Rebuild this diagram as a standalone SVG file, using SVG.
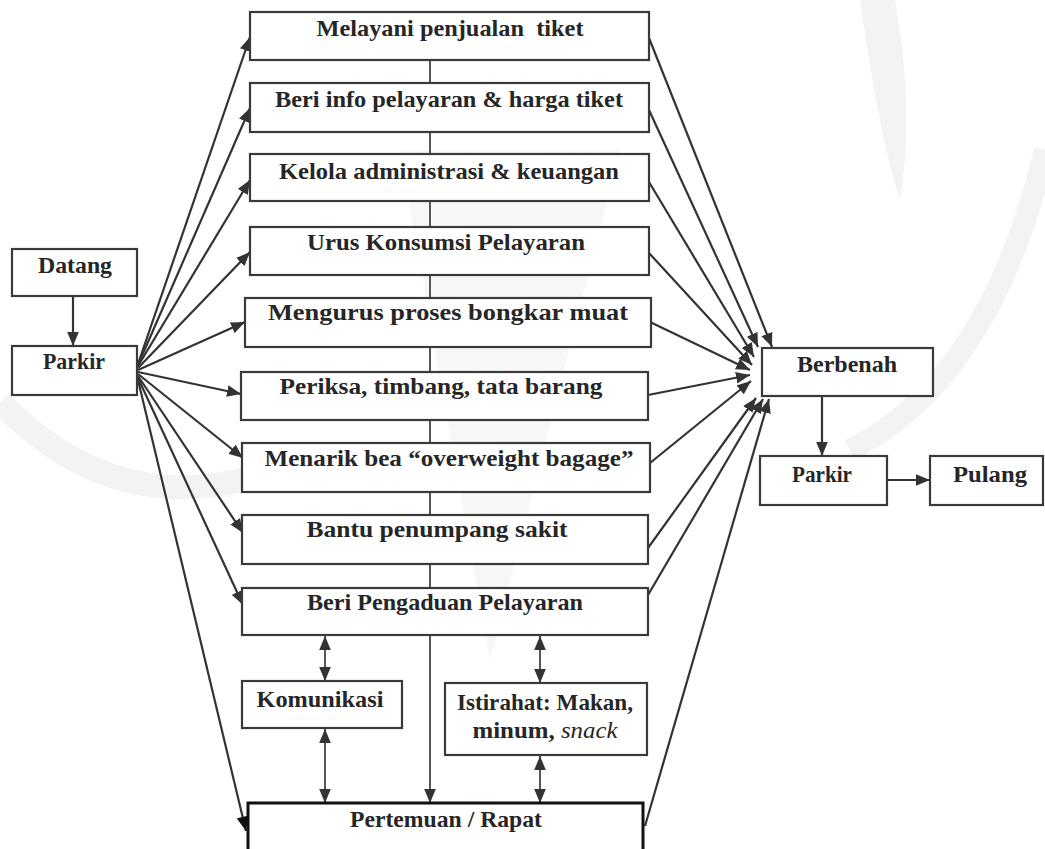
<svg xmlns="http://www.w3.org/2000/svg" width="1045" height="849" viewBox="0 0 1045 849">
  <defs>
    <marker id="ah" viewBox="0 0 12 10" refX="12" refY="5" markerWidth="14" markerHeight="12" markerUnits="userSpaceOnUse" orient="auto-start-reverse">
      <path d="M0,0 L12,5 L0,10 z" fill="#333"/>
    </marker>
    <marker id="ahk" viewBox="0 0 12 10" refX="12" refY="5" markerWidth="15" markerHeight="12" markerUnits="userSpaceOnUse" orient="auto">
      <path d="M0,0 L12,5 L0,10 z" fill="#111"/>
    </marker>
  </defs>
  <style>
    .box { fill: #fff; stroke: #3a3a3a; stroke-width: 2.2; }
    .box2 { fill: #fff; stroke: #111; stroke-width: 3; }
    .lbl { font-family: "Liberation Serif", serif; font-weight: 700; font-size: 24px; fill: #262626; text-anchor: middle; }
    .it { font-family: "Liberation Serif", serif; font-style: italic; font-weight: 400; }
    .ln { fill: none; stroke: #333; stroke-width: 2.2; }
    .lnf { fill: none; stroke: #444; stroke-width: 1.8; }
    .wm { fill: none; stroke: #f3f3f3; }
  </style>
  <rect width="1045" height="849" fill="#fff"/>

  <!-- faint emblem in the background -->
  <g id="emblem">
    <path class="wm" stroke-width="24" d="M0,402 Q110,515 250,478"/>
    <path class="wm" stroke-width="22" d="M1045,150 Q990,380 850,450"/>
    <path d="M860,0 L895,0 Q915,110 900,200 Q880,140 860,0 Z" fill="#f3f3f3"/>
    <path d="M400,150 L620,150 L490,660 Z" fill="#f7f7f7"/>
  </g>

  <!-- connectors -->
  <g id="connectors">
    <!-- spine through the activity column -->
    <path class="lnf" d="M430,60 L430,803" marker-end="url(#ah)"/>
    <!-- Datang to Parkir -->
    <path class="ln" d="M73,296 L73,346" marker-end="url(#ah)"/>
    <!-- fan out of Parkir -->
    <path class="ln" d="M138,364 L250,37" marker-end="url(#ah)"/>
    <path class="ln" d="M138,365 L250,108" marker-end="url(#ah)"/>
    <path class="ln" d="M138,366 L250,180" marker-end="url(#ah)"/>
    <path class="ln" d="M138,368 L250,252" marker-end="url(#ah)"/>
    <path class="ln" d="M138,370 L245,322" marker-end="url(#ah)"/>
    <path class="ln" d="M138,372 L241,394" marker-end="url(#ah)"/>
    <path class="ln" d="M138,374 L243,458" marker-end="url(#ah)"/>
    <path class="ln" d="M138,376 L243,533" marker-end="url(#ah)"/>
    <path class="ln" d="M138,378 L243,605" marker-end="url(#ah)"/>
    <path class="ln" d="M138,380 L246,831" marker-end="url(#ahk)"/>
    <!-- fan into Berbenah -->
    <path class="ln" d="M649,38 L772,347" marker-end="url(#ah)"/>
    <path class="ln" d="M649,110 L758,347" marker-end="url(#ah)"/>
    <path class="ln" d="M649,182 L754,357" marker-end="url(#ah)"/>
    <path class="ln" d="M649,253 L752,365" marker-end="url(#ah)"/>
    <path class="ln" d="M650,322 L750,370" marker-end="url(#ah)"/>
    <path class="ln" d="M648,395 L750,375" marker-end="url(#ah)"/>
    <path class="ln" d="M650,463 L751,381" marker-end="url(#ah)"/>
    <path class="ln" d="M648,548 L756,398" marker-end="url(#ah)"/>
    <path class="ln" d="M648,595 L763,399" marker-end="url(#ah)"/>
    <path class="ln" d="M645,826 L769,399" marker-end="url(#ah)"/>
    <!-- exit path -->
    <path class="ln" d="M822,396 L822,456" marker-end="url(#ah)"/>
    <path class="ln" d="M887,480 L930,480" marker-end="url(#ah)"/>
    <!-- two-way links -->
    <path class="lnf" d="M325,636 L325,681" marker-start="url(#ah)" marker-end="url(#ah)"/>
    <path class="lnf" d="M325,729 L325,803" marker-start="url(#ah)" marker-end="url(#ah)"/>
    <path class="lnf" d="M540,636 L540,683" marker-start="url(#ah)" marker-end="url(#ah)"/>
    <path class="lnf" d="M540,756 L540,803" marker-start="url(#ah)" marker-end="url(#ah)"/>
  </g>

  <g id="datang">
    <rect class="box" x="12" y="249" width="125" height="47"/>
    <text class="lbl" x="75" y="273" textLength="74" lengthAdjust="spacingAndGlyphs">Datang</text>
  </g>
  <g id="parkir-in">
    <rect class="box" x="12" y="346" width="125" height="49"/>
    <text class="lbl" x="74" y="369" textLength="62" lengthAdjust="spacingAndGlyphs">Parkir</text>
  </g>

  <g id="melayani">
    <rect class="box" x="250" y="12" width="399" height="48"/>
    <text class="lbl" x="450" y="36" textLength="267" lengthAdjust="spacingAndGlyphs" xml:space="preserve">Melayani penjualan  tiket</text>
  </g>
  <g id="info">
    <rect class="box" x="250" y="83" width="399" height="49"/>
    <text class="lbl" x="449" y="107" textLength="348" lengthAdjust="spacingAndGlyphs">Beri info pelayaran &amp; harga tiket</text>
  </g>
  <g id="kelola">
    <rect class="box" x="250" y="154" width="399" height="47"/>
    <text class="lbl" x="449" y="179" textLength="340" lengthAdjust="spacingAndGlyphs">Kelola administrasi &amp; keuangan</text>
  </g>
  <g id="konsumsi">
    <rect class="box" x="250" y="227" width="399" height="48"/>
    <text class="lbl" x="446" y="250" textLength="278" lengthAdjust="spacingAndGlyphs">Urus Konsumsi Pelayaran</text>
  </g>
  <g id="bongkar">
    <rect class="box" x="245" y="298" width="406" height="49"/>
    <text class="lbl" x="448" y="320" textLength="360" lengthAdjust="spacingAndGlyphs">Mengurus proses bongkar muat</text>
  </g>
  <g id="periksa">
    <rect class="box" x="241" y="372" width="407" height="48"/>
    <text class="lbl" x="441" y="394" textLength="323" lengthAdjust="spacingAndGlyphs">Periksa, timbang, tata barang</text>
  </g>
  <g id="menarik">
    <rect class="box" x="242" y="443" width="408" height="49"/>
    <text class="lbl" x="449" y="466" textLength="369" lengthAdjust="spacingAndGlyphs">Menarik bea “overweight bagage”</text>
  </g>
  <g id="bantu">
    <rect class="box" x="242" y="515" width="406" height="49"/>
    <text class="lbl" x="437" y="537" textLength="261" lengthAdjust="spacingAndGlyphs">Bantu penumpang sakit</text>
  </g>
  <g id="pengaduan">
    <rect class="box" x="242" y="588" width="406" height="47"/>
    <text class="lbl" x="445" y="610" textLength="276" lengthAdjust="spacingAndGlyphs">Beri Pengaduan Pelayaran</text>
  </g>

  <g id="komunikasi">
    <rect class="box" x="242" y="681" width="160" height="47"/>
    <text class="lbl" x="320" y="707" textLength="127" lengthAdjust="spacingAndGlyphs">Komunikasi</text>
  </g>
  <g id="istirahat">
    <rect class="box" x="445" y="683" width="202" height="72"/>
    <text class="lbl" x="545" y="710" textLength="176" lengthAdjust="spacingAndGlyphs">Istirahat: Makan,</text>
    <text class="lbl" x="545" y="738" textLength="145" lengthAdjust="spacingAndGlyphs">minum, <tspan class="it">snack</tspan></text>
  </g>
  <g id="rapat">
    <rect class="box2" x="248" y="803" width="395" height="70"/>
    <text class="lbl" x="446" y="827" textLength="192" lengthAdjust="spacingAndGlyphs" fill="#111">Pertemuan / Rapat</text>
  </g>

  <g id="berbenah">
    <rect class="box" x="762" y="348" width="171" height="48"/>
    <text class="lbl" x="847" y="372" textLength="100" lengthAdjust="spacingAndGlyphs">Berbenah</text>
  </g>
  <g id="parkir-out">
    <rect class="box" x="760" y="456" width="127" height="49"/>
    <text class="lbl" x="822" y="482" textLength="60" lengthAdjust="spacingAndGlyphs">Parkir</text>
  </g>
  <g id="pulang">
    <rect class="box" x="930" y="456" width="113" height="49"/>
    <text class="lbl" x="990" y="482" textLength="74" lengthAdjust="spacingAndGlyphs">Pulang</text>
  </g>
</svg>
